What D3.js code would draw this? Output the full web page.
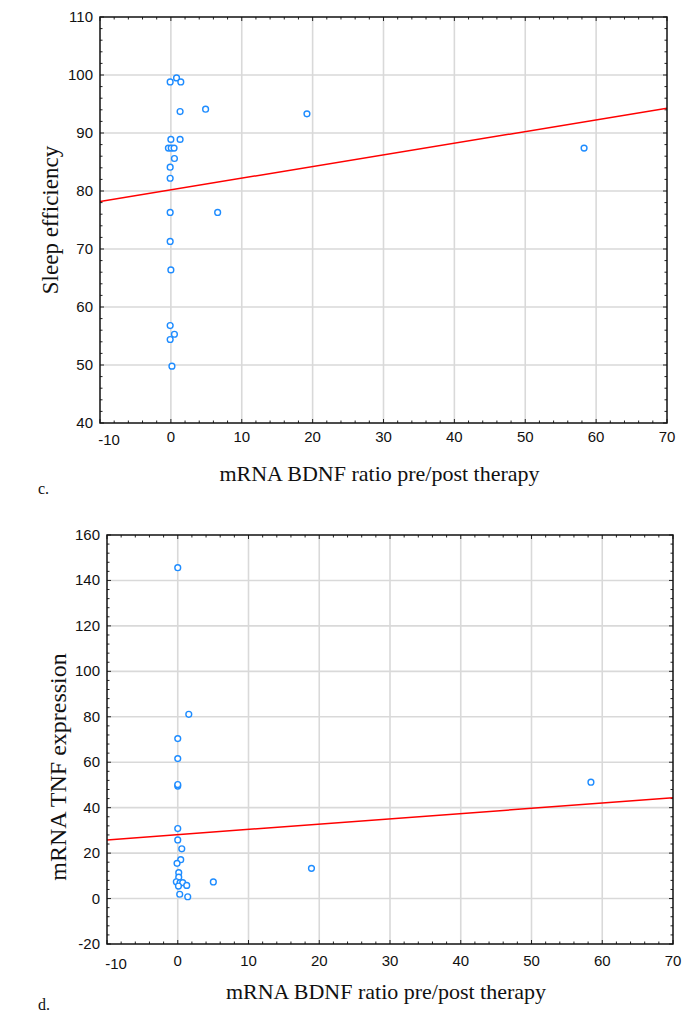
<!DOCTYPE html>
<html>
<head>
<meta charset="utf-8">
<script src="https://cdn.jsdelivr.net/npm/d3@7"></script>
<style>
html,body{margin:0;padding:0;background:#fff;}
svg{display:block;}
</style>
</head>
<body>
<svg id="chart" width="690" height="1021"></svg>
<script>
// ---------- data ----------
const xTicks = [-10, 0, 10, 20, 30, 40, 50, 60, 70];
const topYTicks = [40, 50, 60, 70, 80, 90, 100, 110];
const botYTicks = [-20, 0, 20, 40, 60, 80, 100, 120, 140, 160];

// panel c: mRNA BDNF ratio vs sleep efficiency
const topX = [-0.1, 0.8, 1.4, 1.3, 4.9, 19.2, 0.0, 1.3, -0.35, 0.05, 0.45, 0.5, -0.1, -0.1, -0.1, 6.6, -0.1, 0.0, -0.1, 0.5, -0.1, 0.15, 58.3];
const topY = [98.8, 99.5, 98.8, 93.7, 94.1, 93.3, 88.9, 88.9, 87.4, 87.4, 87.4, 85.6, 84.1, 82.2, 76.3, 76.3, 71.3, 66.4, 56.8, 55.3, 54.4, 49.8, 87.4];
const topFit = [80.2, 0.201]; // intercept, slope

// panel d: mRNA BDNF ratio vs mRNA TNF expression
const botX = [0.0, 1.56, 0.0, 0.0, 0.0, 0.0, 0.0, 0.0, 0.57, 0.42, -0.1, 0.14, 0.14, -0.2, 0.33, 0.7, 0.1, 1.27, 5.03, 0.28, 1.41, 18.9, 58.4];
const botY = [145.6, 81.1, 70.4, 61.6, 49.5, 50.2, 30.8, 25.8, 21.9, 17.1, 15.5, 11.4, 9.4, 7.4, 7.0, 7.0, 5.5, 5.8, 7.3, 1.9, 0.8, 13.3, 51.2];
const botFit = [28.1, 0.2325];

const xTitle = "mRNA BDNF ratio pre/post therapy";

// ---------- drawing ----------
const svg = d3.select("#chart");

function panel(o) {
  const g = svg.append("g");
  const x = d3.scaleLinear().domain([-10, 70]).range([o.left, o.right]);
  const y = d3.scaleLinear().domain([o.yTicks[0], o.yTicks[o.yTicks.length - 1]]).range([o.bottom, o.top]);

  // grid
  g.append("g").selectAll("line").data(xTicks.slice(1, -1)).join("line")
    .attr("x1", d => x(d)).attr("x2", d => x(d)).attr("y1", o.top).attr("y2", o.bottom)
    .attr("stroke", "#d9d9d9").attr("stroke-width", 1.6);
  g.append("g").selectAll("line").data(o.yTicks.slice(1, -1)).join("line")
    .attr("y1", d => y(d)).attr("y2", d => y(d)).attr("x1", o.left).attr("x2", o.right)
    .attr("stroke", "#d9d9d9").attr("stroke-width", 1.6);

  // minor/major inward ticks on all sides
  const xm = d3.range(-10, 70.001, 2);
  const ym = d3.range(o.yTicks[0], o.yTicks[o.yTicks.length - 1] + 0.001, o.yMinor);
  const isMajX = d => Math.abs(d % 10) < 1e-6;
  const isMajY = d => Math.abs(d % o.yMajor) < 1e-6;
  const tk = g.append("g").attr("stroke", "#222").attr("stroke-width", 1);
  tk.selectAll(".xb").data(xm).join("line")
    .attr("x1", d => x(d)).attr("x2", d => x(d))
    .attr("y1", o.bottom).attr("y2", d => o.bottom - (isMajX(d) ? 4 : 2.5));
  tk.selectAll(".xt").data(xm).join("line").attr("class", "xt")
    .attr("x1", d => x(d)).attr("x2", d => x(d))
    .attr("y1", o.top).attr("y2", d => o.top + (isMajX(d) ? 4 : 2.5));
  tk.selectAll(".yl").data(ym).join("line").attr("class", "yl")
    .attr("y1", d => y(d)).attr("y2", d => y(d))
    .attr("x1", o.left).attr("x2", d => o.left + (isMajY(d) ? 4 : 2.5));
  tk.selectAll(".yr").data(ym).join("line").attr("class", "yr")
    .attr("y1", d => y(d)).attr("y2", d => y(d))
    .attr("x1", o.right).attr("x2", d => o.right - (isMajY(d) ? 4 : 2.5));

  // regression line (clipped)
  const cid = "clip" + o.id;
  svg.append("clipPath").attr("id", cid).append("rect")
    .attr("x", o.left).attr("y", o.top).attr("width", o.right - o.left).attr("height", o.bottom - o.top);
  g.append("line").attr("clip-path", `url(#${cid})`)
    .attr("x1", x(-10)).attr("y1", y(o.fit[0] + o.fit[1] * -10))
    .attr("x2", x(70)).attr("y2", y(o.fit[0] + o.fit[1] * 70))
    .attr("stroke", "#ff0000").attr("stroke-width", 1.5);

  // points
  const pts = o.xs.map((d, i) => [d, o.ys[i]]);
  g.append("g").selectAll("circle").data(pts).join("circle")
    .attr("cx", d => x(d[0])).attr("cy", d => y(d[1])).attr("r", 2.9)
    .attr("fill", "#fff").attr("stroke", "#1e8cff").attr("stroke-width", 1.4);

  // frame
  g.append("rect").attr("x", o.left).attr("y", o.top)
    .attr("width", o.right - o.left).attr("height", o.bottom - o.top)
    .attr("fill", "none").attr("stroke", "#111").attr("stroke-width", 1.5);

  // tick labels
  const lab = g.append("g").attr("font-family", "'Liberation Sans', Arial, sans-serif")
    .attr("font-size", 15).attr("fill", "#111");
  lab.selectAll(".xl").data(xTicks).join("text")
    .attr("x", d => x(d) + (d === -10 ? 9 : 0)).attr("y", d => o.bottom + o.xLabDy + (d === -10 ? 3 : 0))
    .attr("text-anchor", "middle").text(d => d);
  lab.selectAll(".ylab").data(o.yTicks).join("text").attr("class", "ylab")
    .attr("x", o.left - 7).attr("y", d => y(d) + 5)
    .attr("text-anchor", "end").text(d => d);

  // axis titles
  g.append("text").attr("x", (o.left + o.right) / 2 - 4).attr("y", o.bottom + o.xTitleDy)
    .attr("text-anchor", "middle").attr("font-family", "'Liberation Serif', 'Times New Roman', serif")
    .attr("font-size", 22).attr("fill", "#111").text(xTitle);
  g.append("text").attr("transform", `translate(${o.yTitleX},${o.yTitleY}) rotate(-90)`)
    .attr("text-anchor", "middle").attr("font-family", "'Liberation Serif', 'Times New Roman', serif")
    .attr("font-size", o.yTitleSize).attr("fill", "#111").text(o.yTitle);
  g.append("text").attr("x", 38).attr("y", o.letterY)
    .attr("font-family", "'Liberation Serif', 'Times New Roman', serif")
    .attr("font-size", 16).attr("fill", "#111").text(o.letter);
}

panel({id: "c", left: 100, right: 667, top: 17, bottom: 423, yTicks: topYTicks, yMajor: 10, yMinor: 2,
  xs: topX, ys: topY, fit: topFit, xLabDy: 19, xTitleDy: 58,
  yTitle: "Sleep efficiency", yTitleX: 58, yTitleY: 220, yTitleSize: 23, letter: "c.", letterY: 494});

panel({id: "d", left: 107, right: 673, top: 535, bottom: 944, yTicks: botYTicks, yMajor: 20, yMinor: 4,
  xs: botX, ys: botY, fit: botFit, xLabDy: 22, xTitleDy: 55,
  yTitle: "mRNA TNF expression", yTitleX: 66, yTitleY: 767, yTitleSize: 24, letter: "d.", letterY: 1010});
</script>
</body>
</html>
